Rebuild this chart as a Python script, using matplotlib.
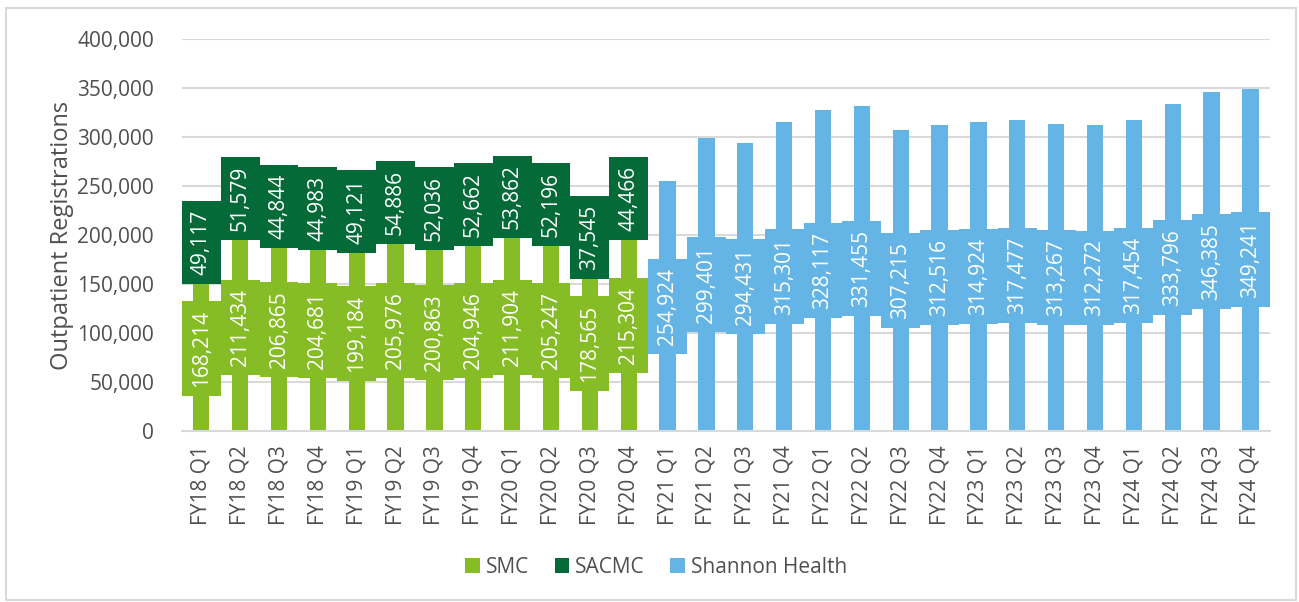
import matplotlib

matplotlib.use('Agg')

import matplotlib.pyplot as plt
from matplotlib.patches import Rectangle
import numpy as np

plt.rcParams['font.family'] = ['Open Sans', 'DejaVu Sans']

quarters = ['FY18 Q1', 'FY18 Q2', 'FY18 Q3', 'FY18 Q4',
            'FY19 Q1', 'FY19 Q2', 'FY19 Q3', 'FY19 Q4',
            'FY20 Q1', 'FY20 Q2', 'FY20 Q3', 'FY20 Q4',
            'FY21 Q1', 'FY21 Q2', 'FY21 Q3', 'FY21 Q4',
            'FY22 Q1', 'FY22 Q2', 'FY22 Q3', 'FY22 Q4',
            'FY23 Q1', 'FY23 Q2', 'FY23 Q3', 'FY23 Q4',
            'FY24 Q1', 'FY24 Q2', 'FY24 Q3', 'FY24 Q4']

smc = [168214, 211434, 206865, 204681, 199184, 205976,
       200863, 204946, 211904, 205247, 178565, 215304]
sacmc = [49117, 51579, 44844, 44983, 49121, 54886,
         52036, 52662, 53862, 52196, 37545, 44466]
shannon = [254924, 299401, 294431, 315301, 328117, 331455, 307215, 312516,
           314924, 317477, 313267, 312272, 317454, 333796, 346385, 349241]

SMC_COLOR = '#86BC25'
SACMC_COLOR = '#046A38'
SH_COLOR = '#64B5E5'
GRAY = '#4F4F4F'
FS = 15

fig = plt.figure(figsize=(12.99, 6.02), dpi=100)
ax = fig.add_axes([0.140, 0.284, 0.8376, 0.651])

x_green = np.arange(len(smc))
x_blue = np.arange(len(smc), len(smc) + len(shannon))
width = 0.42

ax.bar(x_green, smc, width=width, color=SMC_COLOR, label='SMC', zorder=2)
ax.bar(x_green, sacmc, width=width, bottom=smc, color=SACMC_COLOR, label='SACMC', zorder=2)
ax.bar(x_blue, shannon, width=width, color=SH_COLOR, label='Shannon Health', zorder=2)


def add_label(x, y, value, color):
    ax.text(x, y, f'{value:,}', rotation=90, ha='center', va='center',
            color='white', fontsize=FS, zorder=3,
            bbox=dict(boxstyle='square,pad=0.43', facecolor=color, edgecolor='none'))


for xi, s, d in zip(x_green, smc, sacmc):
    add_label(xi, s / 2, s, SMC_COLOR)
    add_label(xi, s + d / 2, d, SACMC_COLOR)
for xi, v in zip(x_blue, shannon):
    add_label(xi, v / 2, v, SH_COLOR)

ax.set_xlim(-0.5, len(quarters) - 0.5)
ax.set_ylim(0, 400000)
ax.set_yticks(np.arange(0, 400001, 50000))
ax.set_yticklabels([f'{t:,}' for t in range(0, 400001, 50000)])
ax.set_xticks(np.arange(len(quarters)))
ax.set_xticklabels(quarters, rotation=90)
ax.tick_params(axis='both', length=0, colors=GRAY, labelsize=FS)
ax.tick_params(axis='y', pad=20)
ax.tick_params(axis='x', pad=10)

ax.grid(axis='y', color='#D9D9D9', linewidth=1.5, zorder=0)
ax.set_axisbelow(True)
for side in ['top', 'right', 'left']:
    ax.spines[side].set_visible(False)
ax.spines['bottom'].set_color('#D9D9D9')
ax.spines['bottom'].set_linewidth(1.5)

ax.set_ylabel('Outpatient Registrations', color=GRAY, fontsize=17, labelpad=2)

ax.legend(loc='center', bbox_to_anchor=(0.436, -0.348), ncol=3, frameon=False,
          fontsize=FS, labelcolor=GRAY, handlelength=0.7, handleheight=0.7,
          handletextpad=0.3, columnspacing=1.2)

fig.patches.append(Rectangle((0.005, 0.004), 0.993, 0.982, transform=fig.transFigure,
                             fill=False, edgecolor='#D9D9D9', linewidth=1.5))

fig.savefig('out.png', dpi=100)
